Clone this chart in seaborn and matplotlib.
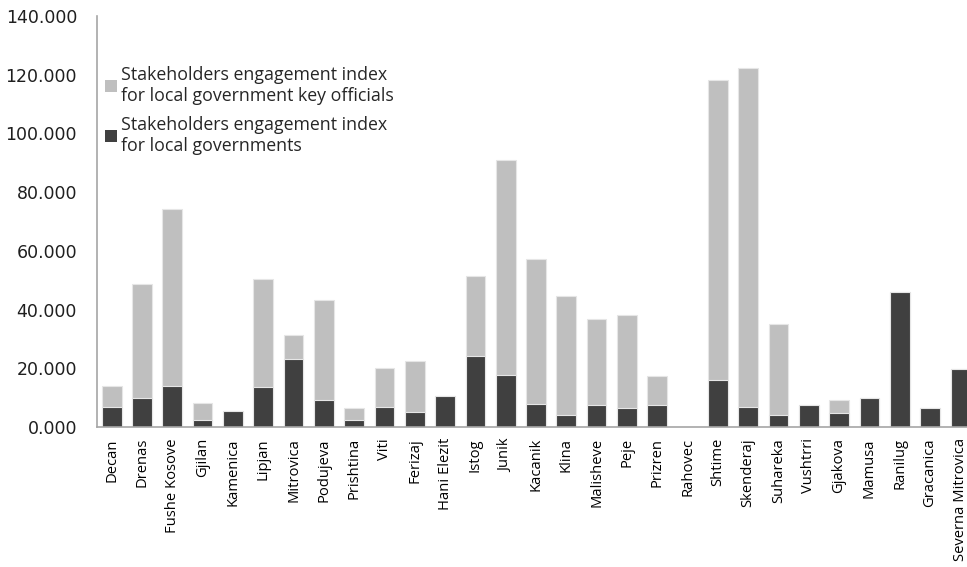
import matplotlib
matplotlib.use("Agg")
import matplotlib.pyplot as plt
from matplotlib.ticker import FuncFormatter
from matplotlib.patches import Patch
import pandas as pd
import seaborn as sns

municipalities = [
    "Decan", "Drenas", "Fushe Kosove", "Gjilan", "Kamenica", "Lipjan",
    "Mitrovica", "Podujeva", "Prishtina", "Viti", "Ferizaj", "Hani Elezit",
    "Istog", "Junik", "Kacanik", "Klina", "Malisheve", "Peje", "Prizren",
    "Rahovec", "Shtime", "Skenderaj", "Suhareka", "Vushtrri", "Gjakova",
    "Mamusa", "Ranilug", "Gracanica", "Severna Mitrovica",
]

# Stakeholders engagement index for local governments (lower segment)
local_gov = [
    6.9, 9.7, 14.0, 2.5, 5.6, 13.5,
    23.0, 9.1, 2.5, 6.9, 5.1, 10.5,
    24.2, 17.6, 7.7, 4.2, 7.4, 6.5, 7.4,
    0.0, 15.9, 6.9, 4.2, 7.4, 4.7,
    10.0, 46.0, 6.5, 19.8,
]

# Stakeholders engagement index for local government key officials (upper segment)
key_officials = [
    7.1, 39.0, 60.1, 5.7, 0.0, 37.0,
    8.4, 34.2, 4.0, 13.3, 17.3, 0.0,
    27.2, 73.4, 49.5, 40.5, 29.4, 31.6, 9.8,
    0.0, 102.3, 115.2, 30.8, 0.0, 4.5,
    0.0, 0.0, 0.0, 0.0,
]

y_ticks = [0, 20, 40, 60, 80, 100, 120, 140]

df = pd.DataFrame({
    "municipality": municipalities,
    "local": local_gov,
    "officials": key_officials,
})
df["total"] = df["local"] + df["officials"]

light = "#BFBFBF"
dark = "#404040"
axis_grey = "#A6A6A6"

sns.set_theme(style="white")
plt.rcParams["font.family"] = ["Open Sans", "DejaVu Sans"]

fig = plt.figure(figsize=(9.67, 5.67), dpi=100)
ax = fig.add_axes([0.0998, 0.247, 0.909, 0.725])

sns.barplot(data=df, x="municipality", y="total", color=light, saturation=1,
            width=0.65, edgecolor="#E6E6E6", linewidth=0.8, ax=ax)
sns.barplot(data=df, x="municipality", y="local", color=dark, saturation=1,
            width=0.65, edgecolor="#E6E6E6", linewidth=0.8, ax=ax)

ax.set_xlim(-0.5, len(municipalities) - 0.5)
ax.set_ylim(0, 140)
ax.set_yticks(y_ticks)
ax.yaxis.set_major_formatter(FuncFormatter(lambda v, _: f"{v:.3f}"))
ax.set_xlabel("")
ax.set_ylabel("")

ax.tick_params(axis="y", length=0, pad=14)
for lbl in ax.get_yticklabels():
    lbl.set_fontfamily("DejaVu Sans")
    lbl.set_fontsize(12.5)
    lbl.set_color("#1F1F1F")
ax.tick_params(axis="x", labelsize=10.6, length=0, pad=8, colors="#000000")
plt.setp(ax.get_xticklabels(), rotation=90, ha="center", va="top")

sns.despine(ax=ax, top=True, right=True)
for side in ("left", "bottom"):
    ax.spines[side].set_color(axis_grey)
    ax.spines[side].set_linewidth(1.2)

handles = [
    Patch(facecolor=light, edgecolor="none",
          label="Stakeholders engagement index\nfor local government key officials"),
    Patch(facecolor=dark, edgecolor="none",
          label="Stakeholders engagement index\nfor local governments"),
]
ax.legend(handles=handles, loc="upper left", bbox_to_anchor=(-0.004, 0.909),
          frameon=False, fontsize=12.8, handlelength=0.65, handleheight=0.65,
          handletextpad=0.2, labelspacing=0.65, borderaxespad=0.3)

fig.savefig("out.png", dpi=100)
